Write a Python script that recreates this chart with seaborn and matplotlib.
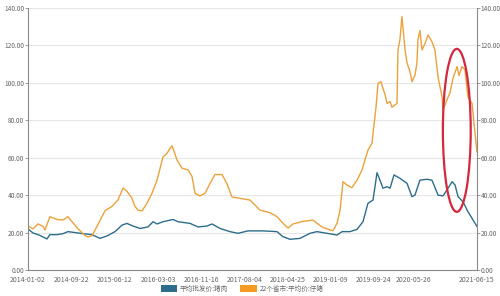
import matplotlib
matplotlib.use("Agg")
import matplotlib.pyplot as plt
from matplotlib.patches import Patch, Ellipse
from matplotlib.ticker import FormatStrFormatter
import seaborn as sns
import pandas as pd

# ---- data ----
pork_dates = ["2014-01-02","2014-02-01","2014-03-15","2014-04-27","2014-05-15","2014-06-27","2014-08-02",
              "2014-09-01","2014-10-14","2014-12-01","2015-01-25","2015-03-14","2015-04-26","2015-06-13",
              "2015-07-26","2015-08-25","2015-09-30","2015-11-12","2015-12-30","2016-01-30","2016-02-23",
              "2016-03-30","2016-05-30","2016-06-29","2016-09-10","2016-10-28","2016-12-22","2017-01-21",
              "2017-03-11","2017-05-10","2017-06-28","2017-08-27","2017-11-26","2018-02-19","2018-03-27",
              "2018-05-09","2018-07-08","2018-09-07","2018-10-19","2018-12-19","2019-02-18","2019-03-20",
              "2019-05-07","2019-06-19","2019-07-25","2019-08-24","2019-09-24","2019-10-18","2019-11-05",
              "2019-11-23","2019-12-18","2020-01-05","2020-01-29","2020-03-05","2020-04-17","2020-05-17",
              "2020-06-04","2020-07-04","2020-08-16","2020-09-15","2020-10-22","2020-11-21","2020-12-15",
              "2021-01-15","2021-02-02","2021-02-20","2021-03-22","2021-04-21","2021-05-16","2021-06-15"]
pork_values = [22.0,19.8,18.5,16.6,18.9,18.9,19.4,
               20.5,20.0,19.4,18.9,16.9,18.2,20.5,
               24.0,24.9,23.5,22.2,23.0,25.8,24.6,
               25.8,27.0,25.8,24.9,23.0,23.5,24.6,
               22.2,20.5,19.6,20.9,20.9,20.5,17.8,
               16.4,16.9,19.6,20.5,19.6,18.7,20.5,
               20.5,21.7,25.8,35.6,37.4,52.0,48.0,
               43.7,44.5,43.7,50.8,49.0,46.3,39.2,
               40.0,48.0,48.5,48.0,40.0,39.6,42.8,
               47.2,45.4,39.2,36.5,31.2,27.6,23.2]

piglet_dates = ["2014-01-02","2014-02-01","2014-03-04","2014-04-03","2014-04-15","2014-05-15","2014-06-27",
                "2014-08-02","2014-09-01","2014-09-26","2014-11-01","2014-12-13","2015-01-01","2015-01-25",
                "2015-02-24","2015-04-14","2015-05-26","2015-07-01","2015-08-01","2015-08-25","2015-09-24",
                "2015-10-12","2015-10-31","2015-11-24","2015-12-24","2016-01-23","2016-02-23","2016-03-30",
                "2016-04-23","2016-05-12","2016-05-24","2016-06-23","2016-07-23","2016-08-29","2016-09-22",
                "2016-10-10","2016-11-09","2016-12-10","2017-01-09","2017-02-08","2017-03-23","2017-04-22",
                "2017-05-22","2017-06-22","2017-07-28","2017-09-08","2017-11-08","2018-01-08","2018-02-19",
                "2018-03-27","2018-04-27","2018-05-27","2018-07-27","2018-09-25","2018-10-19","2018-11-19",
                "2019-01-06","2019-01-24","2019-02-18","2019-03-08","2019-03-26","2019-04-19","2019-05-19",
                "2019-06-19","2019-07-19","2019-08-06","2019-08-24","2019-09-18","2019-09-24","2019-10-12",
                "2019-10-24","2019-11-11","2019-11-23","2019-12-05","2019-12-18","2020-01-05","2020-01-17",
                "2020-02-16","2020-02-22","2020-03-05","2020-03-17","2020-03-23","2020-04-05","2020-04-17",
                "2020-05-05","2020-05-17","2020-06-04","2020-06-16","2020-06-22","2020-07-04","2020-07-17",
                "2020-08-04","2020-08-22","2020-09-15","2020-10-03","2020-10-22","2020-11-15","2020-11-21",
                "2020-12-15","2021-01-02","2021-01-21","2021-02-14","2021-02-26","2021-03-16","2021-04-03",
                "2021-04-21","2021-05-16","2021-06-03","2021-06-15"]
piglet_values = [23.5,22.0,24.6,23.3,21.4,28.5,27.0,
                 26.7,28.5,25.8,22.0,18.5,17.6,18.3,
                 23.3,31.7,34.0,37.4,43.8,42.0,38.4,
                 34.0,32.0,31.6,35.6,41.0,48.0,60.4,
                 62.3,65.0,66.4,58.8,54.4,53.5,50.0,
                 41.0,39.6,41.0,46.3,51.0,51.0,46.0,
                 39.0,38.6,38.0,37.4,32.0,30.6,28.5,
                 25.0,22.4,24.6,26.0,26.7,25.0,23.0,
                 21.4,21.0,25.0,32.0,47.2,45.4,44.0,
                 48.0,53.4,58.8,64.0,67.8,73.0,87.0,
                 99.8,100.6,97.0,94.0,89.0,90.0,87.0,
                 89.0,117.6,123.0,135.4,130.0,117.6,110.6,
                 106.0,100.6,104.0,110.6,123.0,128.0,117.6,
                 121.0,125.6,122.0,117.6,103.0,92.6,85.5,
                 91.0,94.6,102.6,108.7,104.0,108.7,107.0,
                 92.6,89.0,73.0,63.0]

series_names = ["平均批发价:猪肉", "22个省市:平均价:仔猪"]
tick_dates = ["2014-01-02","2014-09-22","2015-06-12","2016-03-03","2016-11-16","2017-08-04",
              "2018-04-25","2019-01-09","2019-09-24","2020-05-26","2021-06-15"]
y_ticks = [0, 20, 40, 60, 80, 100, 120, 140]

# ---- styling ----
BLUE = "#2d6d8c"
ORANGE = "#eba23c"
LEGEND_ORANGE = "#f59a23"
GRAY_TXT = "#666666"
AXIS_C = "#8a8a8a"

sns.set_theme(style="white")
plt.rcParams["font.family"] = ["Noto Sans CJK SC", "DejaVu Sans"]

fig = plt.figure(figsize=(5.0, 2.96), dpi=100)
ax = fig.add_axes([28/500, 26/296, 449/500, 262/296])

df_pork = pd.DataFrame({"date": pd.to_datetime(pork_dates), "value": pork_values})
df_piglet = pd.DataFrame({"date": pd.to_datetime(piglet_dates), "value": piglet_values})

sns.lineplot(data=df_pork, x="date", y="value", ax=ax, color=BLUE, lw=1.0)
sns.lineplot(data=df_piglet, x="date", y="value", ax=ax, color=ORANGE, lw=1.0)

ax.set_xlim(pd.Timestamp(tick_dates[0]), pd.Timestamp(tick_dates[-1]))
ax.set_ylim(y_ticks[0], y_ticks[-1])
ax.set_xlabel("")
ax.set_ylabel("")

ax.set_xticks(pd.to_datetime(tick_dates))
ax.set_xticklabels(tick_dates)
ax.set_yticks(y_ticks)
ax.yaxis.set_major_formatter(FormatStrFormatter("%.2f"))
ax.grid(axis="y", color="#e6e6e6", lw=0.8)
ax.grid(axis="x", visible=False)

ax.spines["top"].set_visible(False)
for s in ["left", "right", "bottom"]:
    ax.spines[s].set_color(AXIS_C)
    ax.spines[s].set_linewidth(0.8)

ax.tick_params(axis="x", labelsize=5.0, colors=AXIS_C, labelcolor=GRAY_TXT, length=3, width=0.6, pad=1.2)
ax.tick_params(axis="y", labelsize=4.7, colors=AXIS_C, labelcolor=GRAY_TXT, length=2.2, width=0.6, pad=0.6,
               left=True, right=True, labelleft=True, labelright=True)

# annotation ellipse
ell = Ellipse((0.955, 0.533), 0.062, 0.622, transform=ax.transAxes, fill=False,
              edgecolor="#d3283d", lw=1.6, zorder=5)
ax.add_patch(ell)

handles = [Patch(facecolor=BLUE, edgecolor="none"), Patch(facecolor=LEGEND_ORANGE, edgecolor="none")]
fig.legend(handles, series_names, loc="center", bbox_to_anchor=(0.484, 0.025), ncol=2, frameon=False,
           fontsize=4.8, handlelength=2.5, handleheight=1.1, handletextpad=0.4, columnspacing=1.8,
           labelcolor=GRAY_TXT)

fig.savefig("out.png", dpi=100)
